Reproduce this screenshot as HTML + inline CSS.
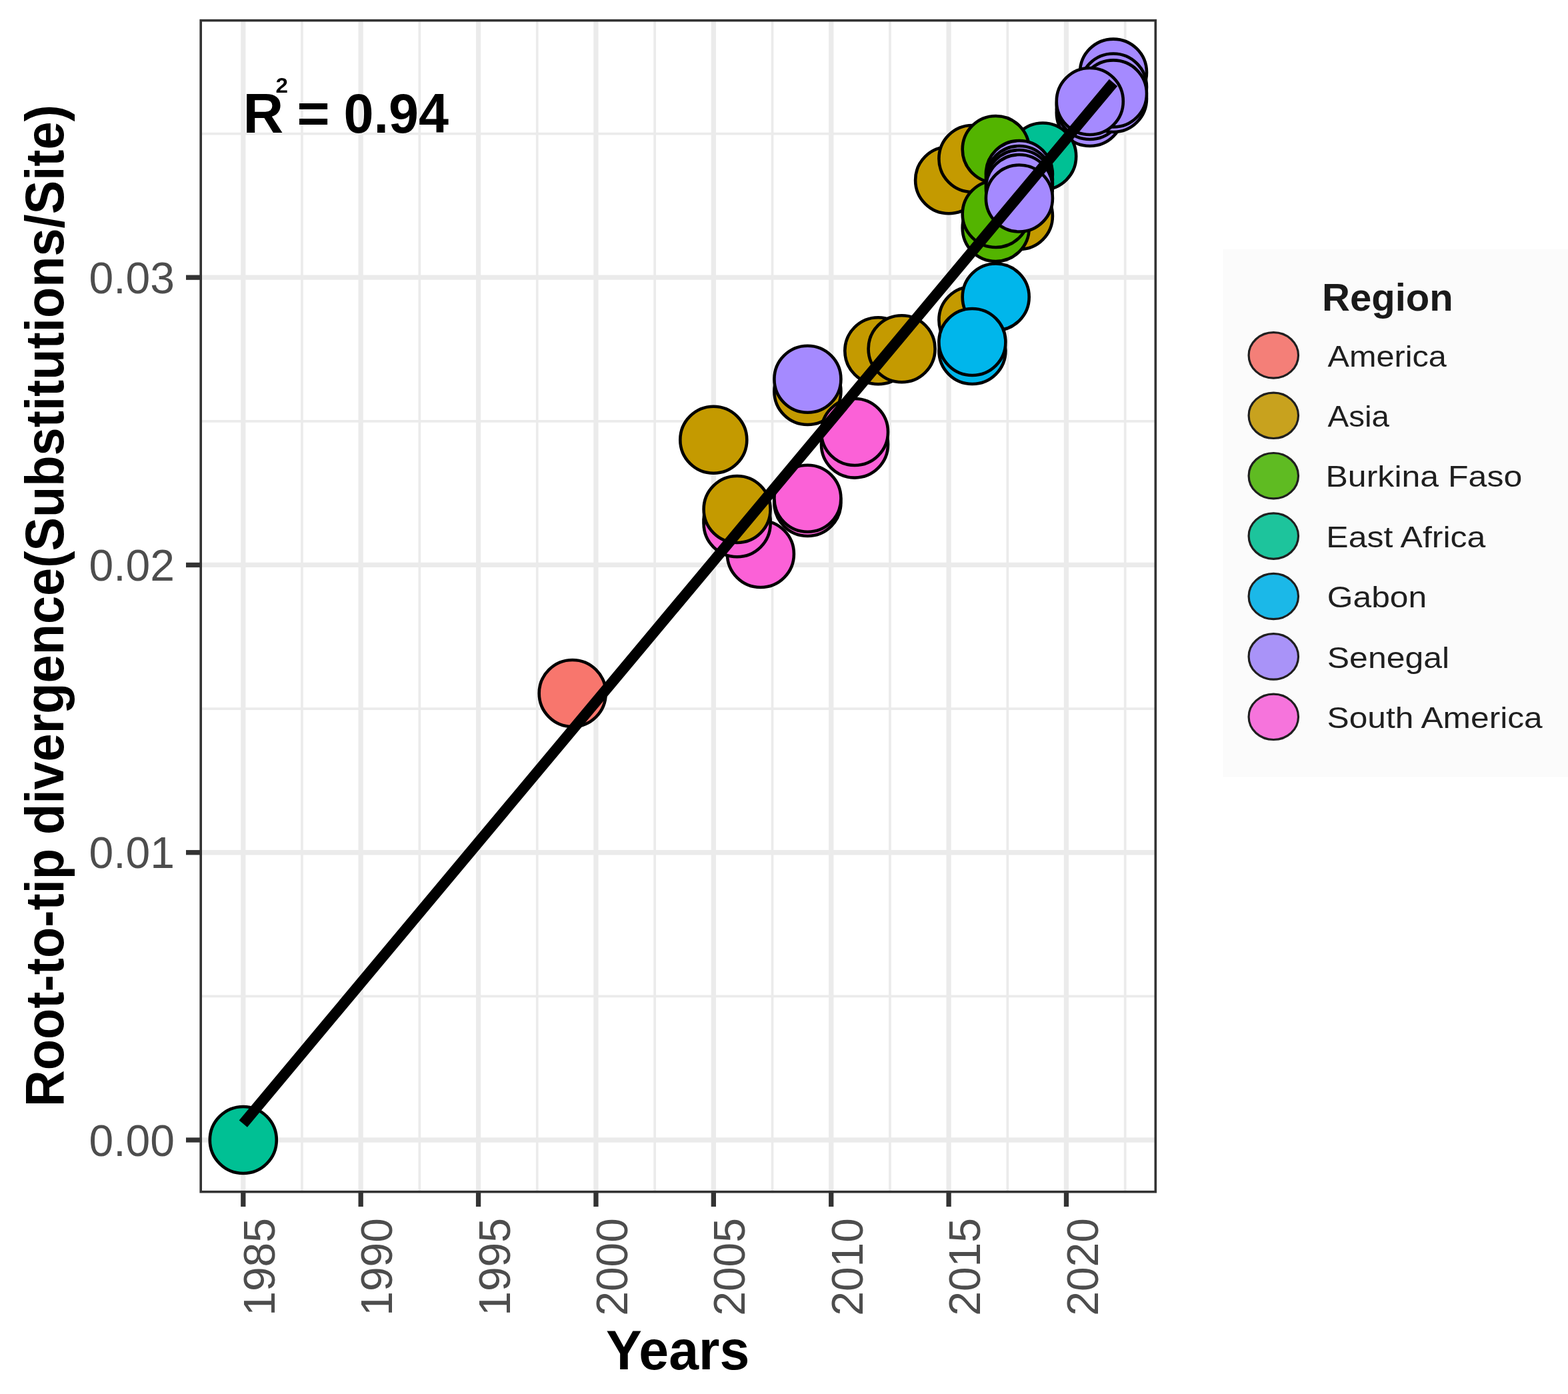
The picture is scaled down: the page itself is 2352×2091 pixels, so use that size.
<!DOCTYPE html><html><head><meta charset="utf-8"><title>Root-to-tip regression</title>
<style>html,body{margin:0;padding:0;background:#fff;}svg{display:block;}text{font-family:"Liberation Sans",Arial,sans-serif;}</style></head><body>
<svg width="2352" height="2091" viewBox="0 0 2352 2091">
<rect x="0" y="0" width="2352" height="2091" fill="#fff"/>
<defs><clipPath id="pc"><rect x="300.0" y="29.0" width="1434.5" height="1760.5"/></clipPath></defs>
<g clip-path="url(#pc)">
<line x1="452.99" y1="29.0" x2="452.99" y2="1789.5" stroke="#EBEBEB" stroke-width="3.7"/>
<line x1="629.38" y1="29.0" x2="629.38" y2="1789.5" stroke="#EBEBEB" stroke-width="3.7"/>
<line x1="805.76" y1="29.0" x2="805.76" y2="1789.5" stroke="#EBEBEB" stroke-width="3.7"/>
<line x1="982.15" y1="29.0" x2="982.15" y2="1789.5" stroke="#EBEBEB" stroke-width="3.7"/>
<line x1="1158.53" y1="29.0" x2="1158.53" y2="1789.5" stroke="#EBEBEB" stroke-width="3.7"/>
<line x1="1334.92" y1="29.0" x2="1334.92" y2="1789.5" stroke="#EBEBEB" stroke-width="3.7"/>
<line x1="1511.30" y1="29.0" x2="1511.30" y2="1789.5" stroke="#EBEBEB" stroke-width="3.7"/>
<line x1="1687.69" y1="29.0" x2="1687.69" y2="1789.5" stroke="#EBEBEB" stroke-width="3.7"/>
<line x1="300.0" y1="1494.37" x2="1734.5" y2="1494.37" stroke="#EBEBEB" stroke-width="3.7"/>
<line x1="300.0" y1="1063.10" x2="1734.5" y2="1063.10" stroke="#EBEBEB" stroke-width="3.7"/>
<line x1="300.0" y1="631.83" x2="1734.5" y2="631.83" stroke="#EBEBEB" stroke-width="3.7"/>
<line x1="300.0" y1="200.55" x2="1734.5" y2="200.55" stroke="#EBEBEB" stroke-width="3.7"/>
<line x1="364.80" y1="29.0" x2="364.80" y2="1789.5" stroke="#EBEBEB" stroke-width="7.3"/>
<line x1="541.18" y1="29.0" x2="541.18" y2="1789.5" stroke="#EBEBEB" stroke-width="7.3"/>
<line x1="717.57" y1="29.0" x2="717.57" y2="1789.5" stroke="#EBEBEB" stroke-width="7.3"/>
<line x1="893.95" y1="29.0" x2="893.95" y2="1789.5" stroke="#EBEBEB" stroke-width="7.3"/>
<line x1="1070.34" y1="29.0" x2="1070.34" y2="1789.5" stroke="#EBEBEB" stroke-width="7.3"/>
<line x1="1246.73" y1="29.0" x2="1246.73" y2="1789.5" stroke="#EBEBEB" stroke-width="7.3"/>
<line x1="1423.11" y1="29.0" x2="1423.11" y2="1789.5" stroke="#EBEBEB" stroke-width="7.3"/>
<line x1="1599.49" y1="29.0" x2="1599.49" y2="1789.5" stroke="#EBEBEB" stroke-width="7.3"/>
<line x1="300.0" y1="1710.00" x2="1734.5" y2="1710.00" stroke="#EBEBEB" stroke-width="7.3"/>
<line x1="300.0" y1="1278.73" x2="1734.5" y2="1278.73" stroke="#EBEBEB" stroke-width="7.3"/>
<line x1="300.0" y1="847.46" x2="1734.5" y2="847.46" stroke="#EBEBEB" stroke-width="7.3"/>
<line x1="300.0" y1="416.19" x2="1734.5" y2="416.19" stroke="#EBEBEB" stroke-width="7.3"/>
<circle cx="364.8" cy="1710.0" r="50.0" fill="#00C094" stroke="#000" stroke-width="4.6"/>
<circle cx="858.7" cy="1040.0" r="50.0" fill="#F8766D" stroke="#000" stroke-width="4.6"/>
<circle cx="1070.3" cy="659.7" r="50.0" fill="#C49A00" stroke="#000" stroke-width="4.6"/>
<circle cx="1140.9" cy="831.0" r="50.0" fill="#FB61D7" stroke="#000" stroke-width="4.6"/>
<circle cx="1105.6" cy="779.0" r="50.0" fill="#FB61D7" stroke="#000" stroke-width="4.6"/>
<circle cx="1105.6" cy="785.3" r="50.0" fill="#FB61D7" stroke="#000" stroke-width="4.6"/>
<circle cx="1105.6" cy="764.0" r="50.0" fill="#C49A00" stroke="#000" stroke-width="4.6"/>
<circle cx="1211.4" cy="587.0" r="50.0" fill="#C49A00" stroke="#000" stroke-width="4.6"/>
<circle cx="1211.4" cy="568.7" r="50.0" fill="#A58AFF" stroke="#000" stroke-width="4.6"/>
<circle cx="1211.4" cy="754.0" r="50.0" fill="#FB61D7" stroke="#000" stroke-width="4.6"/>
<circle cx="1211.4" cy="747.8" r="50.0" fill="#FB61D7" stroke="#000" stroke-width="4.6"/>
<circle cx="1282.0" cy="666.6" r="50.0" fill="#FB61D7" stroke="#000" stroke-width="4.6"/>
<circle cx="1282.0" cy="648.0" r="50.0" fill="#FB61D7" stroke="#000" stroke-width="4.6"/>
<circle cx="1317.3" cy="526.3" r="50.0" fill="#C49A00" stroke="#000" stroke-width="4.6"/>
<circle cx="1352.6" cy="523.2" r="50.0" fill="#C49A00" stroke="#000" stroke-width="4.6"/>
<circle cx="1458.4" cy="480.0" r="50.0" fill="#C49A00" stroke="#000" stroke-width="4.6"/>
<circle cx="1493.7" cy="445.5" r="50.0" fill="#00B6EB" stroke="#000" stroke-width="4.6"/>
<circle cx="1458.4" cy="526.0" r="50.0" fill="#00B6EB" stroke="#000" stroke-width="4.6"/>
<circle cx="1458.4" cy="513.0" r="50.0" fill="#00B6EB" stroke="#000" stroke-width="4.6"/>
<circle cx="1634.8" cy="169.0" r="50.0" fill="#A58AFF" stroke="#000" stroke-width="4.6"/>
<circle cx="1634.8" cy="159.0" r="50.0" fill="#A58AFF" stroke="#000" stroke-width="4.6"/>
<circle cx="1670.0" cy="108.6" r="50.0" fill="#A58AFF" stroke="#000" stroke-width="4.6"/>
<circle cx="1670.0" cy="148.0" r="50.0" fill="#A58AFF" stroke="#000" stroke-width="4.6"/>
<circle cx="1670.0" cy="130.5" r="50.0" fill="#A58AFF" stroke="#000" stroke-width="4.6"/>
<circle cx="1670.0" cy="140.4" r="50.0" fill="#A58AFF" stroke="#000" stroke-width="4.6"/>
<circle cx="1634.8" cy="152.0" r="50.0" fill="#A58AFF" stroke="#000" stroke-width="4.6"/>
<circle cx="1564.2" cy="234.5" r="50.0" fill="#00C094" stroke="#000" stroke-width="4.6"/>
<circle cx="1423.1" cy="270.3" r="50.0" fill="#C49A00" stroke="#000" stroke-width="4.6"/>
<circle cx="1458.4" cy="238.0" r="50.0" fill="#C49A00" stroke="#000" stroke-width="4.6"/>
<circle cx="1528.9" cy="324.0" r="50.0" fill="#C49A00" stroke="#000" stroke-width="4.6"/>
<circle cx="1493.7" cy="342.0" r="50.0" fill="#53B400" stroke="#000" stroke-width="4.6"/>
<circle cx="1493.7" cy="321.0" r="50.0" fill="#53B400" stroke="#000" stroke-width="4.6"/>
<circle cx="1493.7" cy="224.0" r="50.0" fill="#53B400" stroke="#000" stroke-width="4.6"/>
<circle cx="1528.9" cy="261.0" r="50.0" fill="#A58AFF" stroke="#000" stroke-width="4.6"/>
<circle cx="1528.9" cy="269.0" r="50.0" fill="#A58AFF" stroke="#000" stroke-width="4.6"/>
<circle cx="1528.9" cy="275.0" r="50.0" fill="#A58AFF" stroke="#000" stroke-width="4.6"/>
<circle cx="1528.9" cy="282.0" r="50.0" fill="#A58AFF" stroke="#000" stroke-width="4.6"/>
<circle cx="1528.9" cy="297.5" r="50.0" fill="#A58AFF" stroke="#000" stroke-width="4.6"/>
<line x1="364.8" y1="1685.6" x2="1670.0" y2="124.0" stroke="#000" stroke-width="16"/>
</g>
<rect x="301.2" y="30.7" width="1432.1" height="1757.0" fill="none" stroke="#333333" stroke-width="3.6"/>
<line x1="364.80" y1="1789" x2="364.80" y2="1810" stroke="#333333" stroke-width="7.3"/>
<line x1="541.18" y1="1789" x2="541.18" y2="1810" stroke="#333333" stroke-width="7.3"/>
<line x1="717.57" y1="1789" x2="717.57" y2="1810" stroke="#333333" stroke-width="7.3"/>
<line x1="893.95" y1="1789" x2="893.95" y2="1810" stroke="#333333" stroke-width="7.3"/>
<line x1="1070.34" y1="1789" x2="1070.34" y2="1810" stroke="#333333" stroke-width="7.3"/>
<line x1="1246.73" y1="1789" x2="1246.73" y2="1810" stroke="#333333" stroke-width="7.3"/>
<line x1="1423.11" y1="1789" x2="1423.11" y2="1810" stroke="#333333" stroke-width="7.3"/>
<line x1="1599.49" y1="1789" x2="1599.49" y2="1810" stroke="#333333" stroke-width="7.3"/>
<line x1="279" y1="1710.00" x2="301" y2="1710.00" stroke="#333333" stroke-width="7.3"/>
<line x1="279" y1="1278.73" x2="301" y2="1278.73" stroke="#333333" stroke-width="7.3"/>
<line x1="279" y1="847.46" x2="301" y2="847.46" stroke="#333333" stroke-width="7.3"/>
<line x1="279" y1="416.19" x2="301" y2="416.19" stroke="#333333" stroke-width="7.3"/>
<text x="262" y="1733.5" font-size="66" fill="#4D4D4D" text-anchor="end">0.00</text>
<text x="262" y="1302.2" font-size="66" fill="#4D4D4D" text-anchor="end">0.01</text>
<text x="262" y="871.0" font-size="66" fill="#4D4D4D" text-anchor="end">0.02</text>
<text x="262" y="439.7" font-size="66" fill="#4D4D4D" text-anchor="end">0.03</text>
<text transform="translate(411.8,1827) rotate(-90)" font-size="66" fill="#4D4D4D" text-anchor="end">1985</text>
<text transform="translate(588.2,1827) rotate(-90)" font-size="66" fill="#4D4D4D" text-anchor="end">1990</text>
<text transform="translate(764.6,1827) rotate(-90)" font-size="66" fill="#4D4D4D" text-anchor="end">1995</text>
<text transform="translate(941.0,1827) rotate(-90)" font-size="66" fill="#4D4D4D" text-anchor="end">2000</text>
<text transform="translate(1117.3,1827) rotate(-90)" font-size="66" fill="#4D4D4D" text-anchor="end">2005</text>
<text transform="translate(1293.7,1827) rotate(-90)" font-size="66" fill="#4D4D4D" text-anchor="end">2010</text>
<text transform="translate(1470.1,1827) rotate(-90)" font-size="66" fill="#4D4D4D" text-anchor="end">2015</text>
<text transform="translate(1646.5,1827) rotate(-90)" font-size="66" fill="#4D4D4D" text-anchor="end">2020</text>
<text x="909" y="2053.5" font-size="84" font-weight="bold" fill="#000" textLength="215.3" lengthAdjust="spacingAndGlyphs">Years</text>
<text transform="translate(95,908.6) rotate(-90)" font-size="82" font-weight="bold" fill="#000" text-anchor="middle" textLength="1503" lengthAdjust="spacingAndGlyphs">Root-to-tip divergence(Substitutions/Site)</text>
<text x="364.5" y="198.5" font-size="84" font-weight="bold" fill="#000">R</text>
<text x="413.5" y="139" font-size="32" font-weight="bold" fill="#000" textLength="18.5" lengthAdjust="spacingAndGlyphs">2</text>
<text x="445.5" y="198.5" font-size="84" font-weight="bold" fill="#000">=</text>
<text x="515.5" y="198.5" font-size="84" font-weight="bold" fill="#000" textLength="157.6" lengthAdjust="spacingAndGlyphs">0.94</text>
<rect x="1834.5" y="373.7" width="520" height="791.8" fill="#FBFBFB"/>
<text x="1983" y="466.4" font-size="57" font-weight="bold" fill="#1A1A1A" textLength="196.8" lengthAdjust="spacingAndGlyphs">Region</text>
<ellipse cx="1910.3" cy="532.9" rx="37.2" ry="34.2" fill="#F47F78" stroke="#1F1F1F" stroke-width="3.2"/>
<text x="1991.5" y="549.6" font-size="44.5" fill="#1F1F1F" textLength="178.4" lengthAdjust="spacingAndGlyphs">America</text>
<ellipse cx="1910.3" cy="623.3" rx="37.2" ry="34.2" fill="#C8A21E" stroke="#1F1F1F" stroke-width="3.2"/>
<text x="1991.5" y="640.0" font-size="44.5" fill="#1F1F1F" textLength="92.4" lengthAdjust="spacingAndGlyphs">Asia</text>
<ellipse cx="1910.3" cy="713.7" rx="37.2" ry="34.2" fill="#5FBB22" stroke="#1F1F1F" stroke-width="3.2"/>
<text x="1988.5" y="730.4" font-size="44.5" fill="#1F1F1F" textLength="294.8" lengthAdjust="spacingAndGlyphs">Burkina Faso</text>
<ellipse cx="1910.3" cy="804.1" rx="37.2" ry="34.2" fill="#1DC49C" stroke="#1F1F1F" stroke-width="3.2"/>
<text x="1989.3" y="820.8" font-size="44.5" fill="#1F1F1F" textLength="239.1" lengthAdjust="spacingAndGlyphs">East Africa</text>
<ellipse cx="1910.3" cy="894.5" rx="37.2" ry="34.2" fill="#1BB8E8" stroke="#1F1F1F" stroke-width="3.2"/>
<text x="1990.8" y="911.2" font-size="44.5" fill="#1F1F1F" textLength="149.4" lengthAdjust="spacingAndGlyphs">Gabon</text>
<ellipse cx="1910.3" cy="984.9" rx="37.2" ry="34.2" fill="#A993F8" stroke="#1F1F1F" stroke-width="3.2"/>
<text x="1990.8" y="1001.6" font-size="44.5" fill="#1F1F1F" textLength="183.3" lengthAdjust="spacingAndGlyphs">Senegal</text>
<ellipse cx="1910.3" cy="1075.3" rx="37.2" ry="34.2" fill="#F674DC" stroke="#1F1F1F" stroke-width="3.2"/>
<text x="1990.6" y="1092.0" font-size="44.5" fill="#1F1F1F" textLength="323.1" lengthAdjust="spacingAndGlyphs">South America</text>
</svg></body></html>
